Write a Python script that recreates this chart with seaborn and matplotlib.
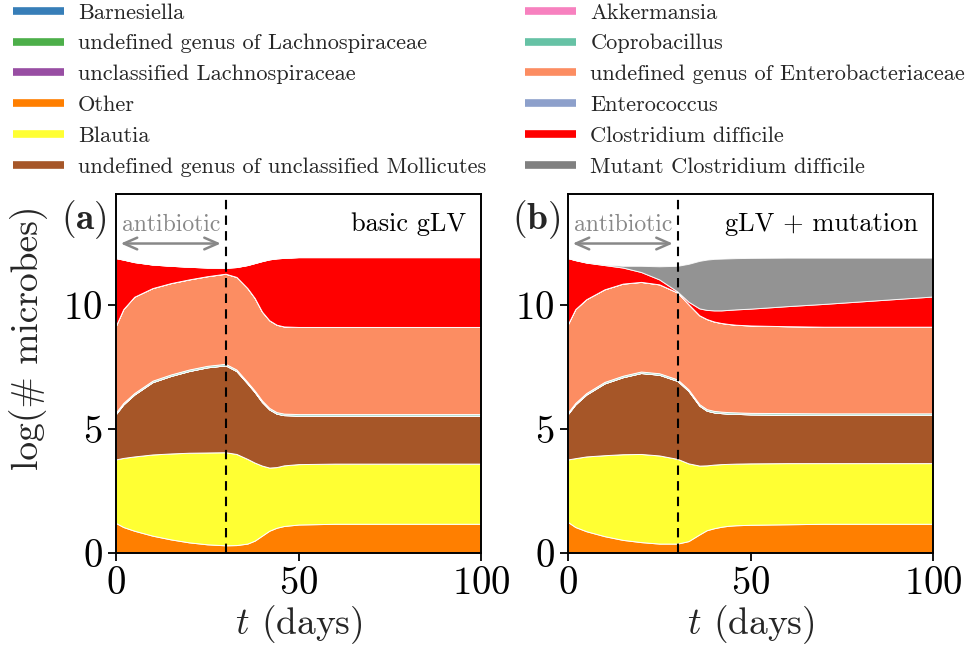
import numpy as np
import matplotlib
matplotlib.use("Agg")
import matplotlib.pyplot as plt
from matplotlib.lines import Line2D
import seaborn as sns

# ---------------- data (log abundances) ----------------
t_days = [0, 2, 5, 10, 15, 20, 25, 30, 33, 36, 38, 40, 42, 44, 46, 50, 60, 70, 80, 90, 100]

taxa = ["Barnesiella", "undefined genus of Lachnospiraceae", "unclassified Lachnospiraceae",
        "Other", "Blautia", "undefined genus of unclassified Mollicutes",
        "Akkermansia", "Coprobacillus", "undefined genus of Enterobacteriaceae",
        "Enterococcus", "Clostridium difficile", "Mutant Clostridium difficile"]

# panel (a): basic gLV
a_barnesiella = [0.0] * 21
a_lachno_genus = [0.0] * 21
a_lachno_uncl = [0.0] * 21
a_other = [1.21, 1.05, 0.90, 0.70, 0.55, 0.43, 0.35, 0.31, 0.32, 0.38, 0.50, 0.70, 0.90, 1.02, 1.09, 1.15, 1.18, 1.18, 1.18, 1.18, 1.18]
a_blautia = [2.57, 2.79, 3.00, 3.28, 3.47, 3.62, 3.71, 3.76, 3.68, 3.42, 3.15, 2.83, 2.55, 2.45, 2.45, 2.44, 2.43, 2.43, 2.43, 2.43, 2.43]
a_mollicutes = [1.84, 2.16, 2.50, 2.92, 3.13, 3.30, 3.44, 3.51, 3.35, 3.05, 2.85, 2.57, 2.35, 2.16, 2.03, 1.96, 1.94, 1.94, 1.94, 1.94, 1.94]
a_akkermansia = [0.0] * 21
a_coprobacillus = [0.06] * 21
a_enterobact = [3.51, 3.79, 3.89, 3.74, 3.69, 3.64, 3.62, 3.64, 3.74, 3.79, 3.74, 3.59, 3.54, 3.53, 3.52, 3.52, 3.52, 3.52, 3.52, 3.52, 3.52]
a_enterococcus = [0.0] * 21
a_cdiff = [2.72, 2.00, 1.40, 0.95, 0.70, 0.51, 0.35, 0.24, 0.40, 0.93, 1.41, 2.04, 2.46, 2.68, 2.77, 2.82, 2.82, 2.82, 2.82, 2.82, 2.82]
a_mutant = [0.0] * 21

# panel (b): gLV + mutation
b_barnesiella = [0.0] * 21
b_lachno_genus = [0.0] * 21
b_lachno_uncl = [0.0] * 21
b_other = [1.25, 1.05, 0.88, 0.68, 0.53, 0.44, 0.38, 0.38, 0.48, 0.75, 0.92, 1.00, 1.06, 1.10, 1.12, 1.14, 1.16, 1.18, 1.18, 1.18, 1.18]
b_blautia = [2.53, 2.78, 3.02, 3.27, 3.46, 3.56, 3.56, 3.42, 3.14, 2.78, 2.62, 2.57, 2.53, 2.50, 2.49, 2.48, 2.47, 2.45, 2.45, 2.45, 2.45]
b_mollicutes = [1.84, 2.17, 2.50, 2.90, 3.11, 3.27, 3.26, 3.15, 2.93, 2.42, 2.21, 2.11, 2.06, 2.03, 2.01, 1.98, 1.96, 1.95, 1.95, 1.95, 1.95]
b_akkermansia = [0.0] * 21
b_coprobacillus = [0.06] * 21
b_enterobact = [3.57, 3.79, 3.79, 3.74, 3.72, 3.62, 3.59, 3.51, 3.44, 3.59, 3.64, 3.61, 3.58, 3.56, 3.54, 3.53, 3.51, 3.50, 3.50, 3.50, 3.50]
b_enterococcus = [0.0] * 21
b_cdiff = [2.66, 1.98, 1.48, 0.98, 0.65, 0.40, 0.20, 0.04, 0.10, 0.28, 0.37, 0.45, 0.51, 0.57, 0.62, 0.68, 0.81, 0.92, 1.02, 1.12, 1.22]
b_mutant = [0.0, 0.0, 0.01, 0.02, 0.07, 0.25, 0.53, 1.04, 1.53, 1.92, 2.03, 2.08, 2.09, 2.08, 2.07, 2.05, 1.96, 1.87, 1.77, 1.67, 1.57]

antibiotic_end = 30
x_ticks = [0, 50, 100]
y_ticks = [0, 5, 10]

# ---------------- style ----------------
sns.set_theme(style="ticks")
plt.rcParams["font.family"] = ["cmr10", "DejaVu Serif"]
plt.rcParams["mathtext.fontset"] = "cm"
plt.rcParams["axes.formatter.use_mathtext"] = True
plt.rcParams["axes.unicode_minus"] = False

set1 = sns.color_palette("Set1", 9)
set2 = sns.color_palette("Set2", 8)
colors = [set1[1], set1[2], set1[3], set1[4], set1[5], set1[6], set1[7],
          set2[0], set2[1], set2[2], "#ff0000", "#808080"]
fill_alpha = [1, 1, 1, 1, 1, 1, 1, 1, 1, 1, 1, 0.85]

fig = plt.figure(figsize=(9.77, 6.46), dpi=100)
W, H = 977, 646
ax_a = fig.add_axes([116 / W, 1 - 553 / H, 365 / W, 359 / H])
ax_b = fig.add_axes([568 / W, 1 - 553 / H, 365 / W, 359 / H])

panels = [
    (ax_a, [a_barnesiella, a_lachno_genus, a_lachno_uncl, a_other, a_blautia, a_mollicutes,
            a_akkermansia, a_coprobacillus, a_enterobact, a_enterococcus, a_cdiff, a_mutant],
     r"$\mathbf{(a)}$", "basic gLV"),
    (ax_b, [b_barnesiella, b_lachno_genus, b_lachno_uncl, b_other, b_blautia, b_mollicutes,
            b_akkermansia, b_coprobacillus, b_enterobact, b_enterococcus, b_cdiff, b_mutant],
     r"$\mathbf{(b)}$", "gLV + mutation"),
]

for ax, series, tag, title in panels:
    polys = ax.stackplot(t_days, *series, colors=colors, edgecolor=(1, 1, 1, 0.35), linewidth=0.7)
    for p, al in zip(polys, fill_alpha):
        p.set_alpha(al)
    ax.axvline(antibiotic_end, color="black", lw=1.5, ls=(0, (4.5, 3)), zorder=5)
    ax.set_xlim(0, 100)
    ax.set_ylim(0, 14.5)
    ax.set_xticks(x_ticks)
    ax.set_yticks(y_ticks)
    ax.tick_params(axis="both", which="major", labelsize=28, direction="out",
                   length=5.5, width=1.3, pad=4, colors="black")
    for s in ax.spines.values():
        s.set_linewidth(1.4)
        s.set_color("black")
    ax.set_xlabel(r"$t$ (days)", fontsize=27, labelpad=1)
    ax.annotate("", xy=(1.3, 12.5), xytext=(28.7, 12.5),
                arrowprops=dict(arrowstyle="<->,head_length=0.8,head_width=0.35",
                                color="#888888", lw=1.8, shrinkA=0, shrinkB=0))
    ax.text(15, 13.0, "antibiotic", color="#888888", fontsize=17, ha="center", va="baseline")
    ax.text(96, 13.0, title, color="black", fontsize=19, ha="right", va="baseline")
    ax.text(-0.087, 0.928, tag, transform=ax.transAxes, fontsize=27, ha="center", va="center")

ax_a.set_ylabel("log(# microbes)", fontsize=27)
ax_a.yaxis.set_label_coords(-0.185, 0.6)

handles = [Line2D([0], [0], color=c, lw=5.5, solid_capstyle="butt") for c in colors]
fig.legend(handles, taxa, ncol=2,
           loc="upper left", bbox_to_anchor=(13 / W, 1 - 3 / H), frameon=False,
           borderpad=0, borderaxespad=0, handlelength=2.28, handletextpad=0.63,
           columnspacing=1.74, labelspacing=0.5, fontsize=16.1)

fig.savefig("out.png", dpi=100)
